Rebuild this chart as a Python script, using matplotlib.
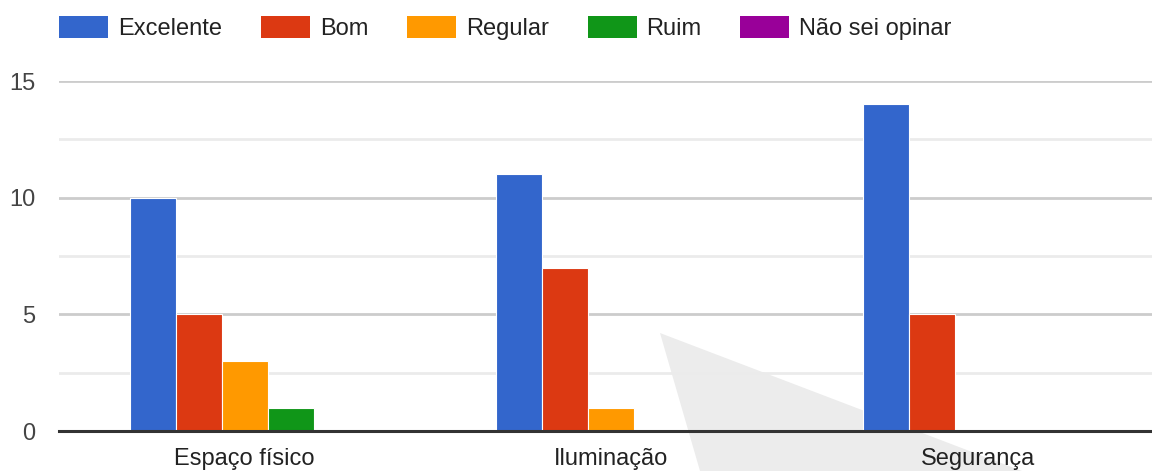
import numpy as np
import matplotlib.pyplot as plt
from matplotlib.patches import Patch, Polygon
from matplotlib.ticker import MultipleLocator

plt.rcParams['font.family'] = ['Liberation Sans', 'DejaVu Sans']

categories = ['Espaço físico', 'Iluminação', 'Segurança']
series = ['Excelente', 'Bom', 'Regular', 'Ruim', 'Não sei opinar']
excelente = [10, 11, 14]
bom = [5, 7, 5]
regular = [3, 1, 0]
ruim = [1, 0, 0]
nao_sei = [0, 0, 0]
colors = ['#3366cc', '#dc3912', '#ff9900', '#109618', '#990099']

W, H = 1152, 471
fig = plt.figure(figsize=(W/100, H/100), dpi=100)
ax = fig.add_axes([59/W, 1-431/H, (W-59)/W, 350/H])
ax.patch.set_visible(False)

# grey pointer shadow seen in the screenshot
tri = Polygon([[660/W, 1-333/H], [700/W, 0], [1022/W, 0]], closed=True,
              transform=fig.transFigure, facecolor='#ececec', edgecolor='none', zorder=-1)
fig.add_artist(tri)

x = np.arange(len(categories))
w = 0.1255
values = [excelente, bom, regular, ruim, nao_sei]
for i, (name, vals) in enumerate(zip(series, values)):
    ax.bar(x + (i-2)*w, vals, width=w, color=colors[i], edgecolor='white',
           linewidth=0.8, label=name, zorder=2)

ax.set_xlim(-0.506, 2.474)
ax.set_ylim(0, 15)
ax.yaxis.set_major_locator(MultipleLocator(5))
ax.yaxis.set_minor_locator(MultipleLocator(2.5))
ax.grid(axis='y', which='major', color='#cccccc', linewidth=2, zorder=1)
ax.grid(axis='y', which='minor', color='#ebebeb', linewidth=2, zorder=1)
ax.set_axisbelow(True)

for s in ['top', 'right', 'left']:
    ax.spines[s].set_visible(False)
ax.spines['bottom'].set_color('#333333')
ax.spines['bottom'].set_linewidth(2.2)
ax.spines['bottom'].set_zorder(3)

ax.set_xticks(x)
ax.set_xticklabels(categories)
ax.tick_params(axis='x', length=0, pad=12, labelsize=17, labelcolor='#222222')
ax.tick_params(axis='y', which='both', length=0, pad=17, labelsize=17, labelcolor='#444444')

handles = [Patch(facecolor=c, edgecolor='none') for c in colors]
fig.legend(handles, series, loc='upper left', bbox_to_anchor=(59/W, 1-16/H),
           ncol=5, frameon=False, fontsize=17, handlelength=2.08, handleheight=1.06,
           handletextpad=0.42, columnspacing=1.64, borderpad=0, borderaxespad=0,
           labelcolor='#222222')

plt.savefig('out.png', dpi=100)
